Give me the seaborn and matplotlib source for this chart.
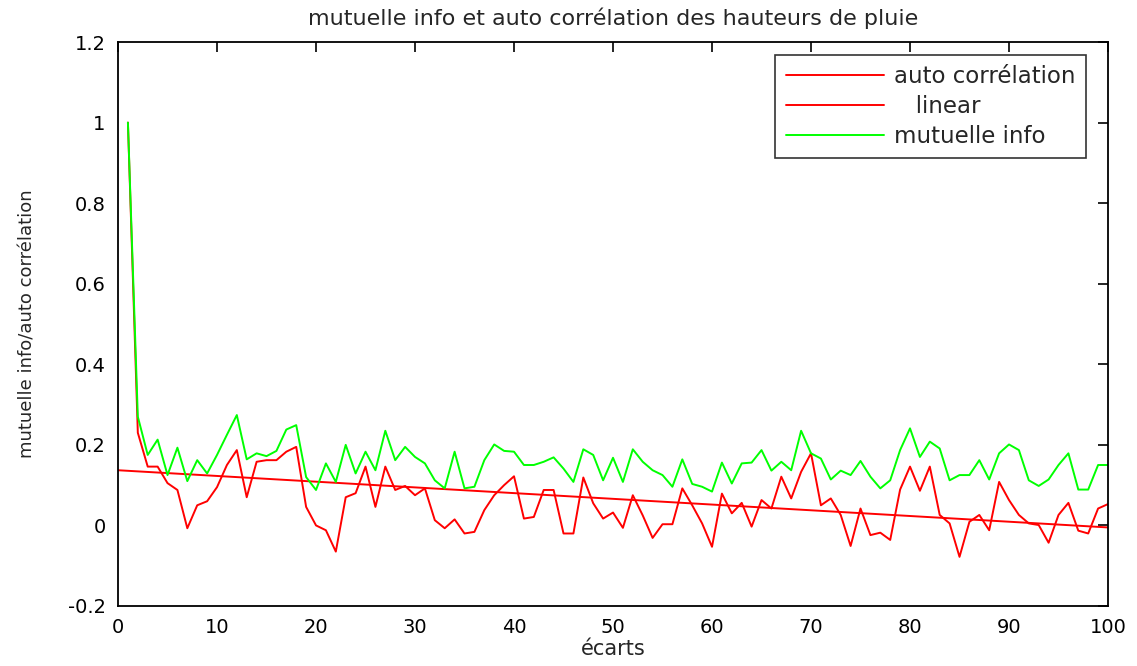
import matplotlib
matplotlib.use("Agg")
import matplotlib.pyplot as plt
import seaborn as sns
import pandas as pd

# lags 1..100
ecarts = list(range(1, 101))

auto_corr = [
    1.0, 0.23, 0.146, 0.146, 0.105, 0.088, -0.007, 0.05, 0.06, 0.095,
    0.15, 0.187, 0.07, 0.158, 0.162, 0.162, 0.183, 0.195, 0.046, 0.0,
    -0.012, -0.065, 0.07, 0.08, 0.146, 0.046, 0.146, 0.088, 0.098, 0.075,
    0.092, 0.013, -0.007, 0.015, -0.02, -0.016, 0.038, 0.075, 0.1, 0.122,
    0.017, 0.021, 0.088, 0.088, -0.02, -0.02, 0.119, 0.055, 0.017, 0.032,
    -0.006, 0.075, 0.025, -0.031, 0.003, 0.003, 0.092, 0.05, 0.005, -0.053,
    0.079, 0.03, 0.056, -0.003, 0.063, 0.042, 0.121, 0.067, 0.133, 0.179,
    0.05, 0.067, 0.026, -0.051, 0.042, -0.024, -0.018, -0.036, 0.089, 0.146,
    0.086, 0.146, 0.026, 0.005, -0.078, 0.009, 0.026, -0.012, 0.108, 0.063,
    0.026, 0.005, 0.001, -0.043, 0.026, 0.056, -0.013, -0.02, 0.042, 0.053,
]

mutuelle_info = [
    1.0, 0.27, 0.175, 0.213, 0.125, 0.193, 0.11, 0.162, 0.129, 0.175,
    0.225, 0.274, 0.164, 0.179, 0.172, 0.185, 0.238, 0.249, 0.12, 0.088,
    0.154, 0.108, 0.2, 0.129, 0.183, 0.137, 0.235, 0.162, 0.195, 0.17,
    0.154, 0.112, 0.092, 0.183, 0.092, 0.096, 0.162, 0.201, 0.185, 0.183,
    0.15, 0.15, 0.158, 0.169, 0.141, 0.108, 0.189, 0.175, 0.112, 0.168,
    0.108, 0.189, 0.158, 0.137, 0.125, 0.096, 0.164, 0.103, 0.096, 0.084,
    0.156, 0.104, 0.154, 0.156, 0.187, 0.136, 0.158, 0.137, 0.235, 0.179,
    0.166, 0.114, 0.136, 0.125, 0.16, 0.121, 0.092, 0.112, 0.187, 0.241,
    0.17, 0.208, 0.191, 0.112, 0.125, 0.125, 0.162, 0.114, 0.179, 0.201,
    0.187, 0.112, 0.098, 0.114, 0.15, 0.179, 0.089, 0.089, 0.15, 0.15,
]

# straight trend line, end points
linear_x = [0, 100]
linear_y = [0.137, -0.005]

sns.set_theme(style="white")
plt.rcParams['font.family'] = ['DejaVu Sans']

df_auto = pd.DataFrame({'ecart': ecarts, 'val': auto_corr})
df_lin = pd.DataFrame({'ecart': linear_x, 'val': linear_y})
df_mi = pd.DataFrame({'ecart': ecarts, 'val': mutuelle_info})

fig = plt.figure(figsize=(11.37, 6.66), dpi=100)
ax = fig.add_axes([0.1038, 0.0901, 0.8707, 0.8468])

sns.lineplot(data=df_auto, x='ecart', y='val', ax=ax, color='#ff0000', lw=1.4,
             label='auto corrélation')
sns.lineplot(data=df_lin, x='ecart', y='val', ax=ax, color='#ff0000', lw=1.4,
             label='   linear')
sns.lineplot(data=df_mi, x='ecart', y='val', ax=ax, color='#00ff00', lw=1.4,
             label='mutuelle info')

ax.set_xlim(0, 100)
ax.set_ylim(-0.2, 1.2)
ax.set_xticks(range(0, 101, 10))
ax.set_yticks([-0.2, 0, 0.2, 0.4, 0.6, 0.8, 1.0, 1.2])
ax.set_yticklabels(['-0.2', '0', '0.2', '0.4', '0.6', '0.8', '1', '1.2'])
ax.tick_params(direction='in', length=7, width=1.2, top=True, right=True,
               labelsize=14, colors='black', pad=9)
for s in ax.spines.values():
    s.set_color('black')
    s.set_linewidth(1.3)

ax.set_title('mutuelle info et auto corrélation des hauteurs de pluie',
             fontsize=16, pad=12)
ax.set_xlabel('écarts', fontsize=15, labelpad=1)
ax.set_ylabel('mutuelle info/auto corrélation', fontsize=13, labelpad=22)

leg = ax.legend(loc='upper right', bbox_to_anchor=(0.978, 0.977),
                borderaxespad=0, fontsize=16.5, frameon=True, fancybox=False,
                edgecolor='black', handlelength=4.3, handletextpad=0.45,
                borderpad=0.45, labelspacing=0.3)
leg.get_frame().set_linewidth(1.2)

fig.savefig('out.png', dpi=100)
